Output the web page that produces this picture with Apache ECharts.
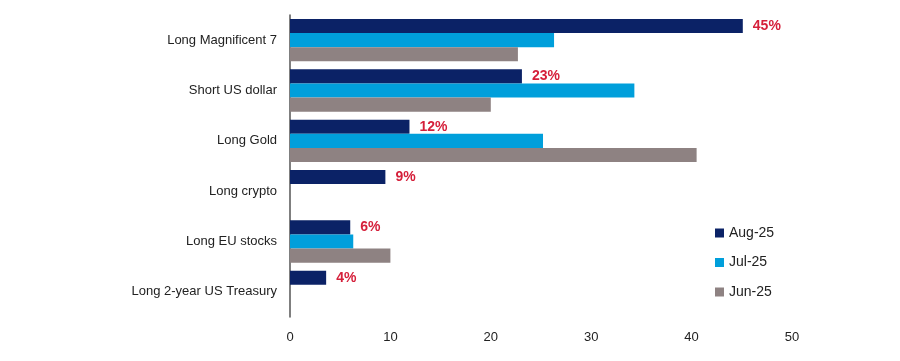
<!DOCTYPE html>
<html><head><meta charset="utf-8">
<script src="https://cdn.jsdelivr.net/npm/echarts@6/dist/echarts.min.js"></script>
<style>html,body{margin:0;padding:0;background:#fff}#c{width:900px;height:361px}</style>
</head><body><div id="c"></div>
<script>
var categories = ["Long Magnificent 7","Short US dollar","Long Gold","Long crypto","Long EU stocks","Long 2-year US Treasury"];
var seriesNames = ["Aug-25","Jul-25","Jun-25"];
var aug = [45.1, 23.1, 11.9, 9.5, 6.0, 3.6];
var jul = [26.3, 34.3, 25.2, null, 6.3, null];
var jun = [22.7, 20.0, 40.5, null, 10.0, null];
var augLabels = ["45%","23%","12%","9%","6%","4%"];
var xTicks = [0,10,20,30,40,50];
var colors = ["#0b2266","#009fdb","#8e8282"];

var chart = echarts.init(document.getElementById('c'));
var font = "Liberation Sans, Arial, sans-serif";
function mk(name, data, color, withLabel){
  return {
    name: name, type: 'bar', data: data, barGap: '0%', barCategoryGap: '16%',
    itemStyle: {color: color},
    label: withLabel ? {
      show: true, position: 'right', distance: 10,
      color: '#d51f3a', fontWeight: 'bold', fontSize: 14, fontFamily: font,
      formatter: function(p){ return augLabels[p.dataIndex]; }
    } : {show:false}
  };
}
chart.setOption({
  animation: false,
  textStyle: {fontFamily: font},
  grid: {left: 290, right: 108, top: 15, bottom: 44, containLabel: false},
  legend: {
    orient: 'vertical', left: 710, top: 221, itemGap: 15.5,
    itemWidth: 9, itemHeight: 9, icon: 'rect',
    textStyle: {fontSize: 14, color: '#222', fontFamily: font},
    data: seriesNames
  },
  xAxis: {
    type: 'value', min: 0, max: 50, interval: 10,
    axisLine: {show: false}, axisTick: {show: false}, splitLine: {show: false},
    axisLabel: {fontSize: 13, color: '#222', margin: 14,
      formatter: function(v){ return xTicks.indexOf(v) >= 0 ? String(v) : ''; }}
  },
  yAxis: {
    type: 'category', data: categories, inverse: true,
    axisLine: {show: true, lineStyle: {color: '#555', width: 1.5}},
    axisTick: {show: false},
    axisLabel: {fontSize: 13, color: '#222', margin: 13}
  },
  series: [mk(seriesNames[0], aug, colors[0], true), mk(seriesNames[1], jul, colors[1], false), mk(seriesNames[2], jun, colors[2], false)]
});
</script></body></html>
